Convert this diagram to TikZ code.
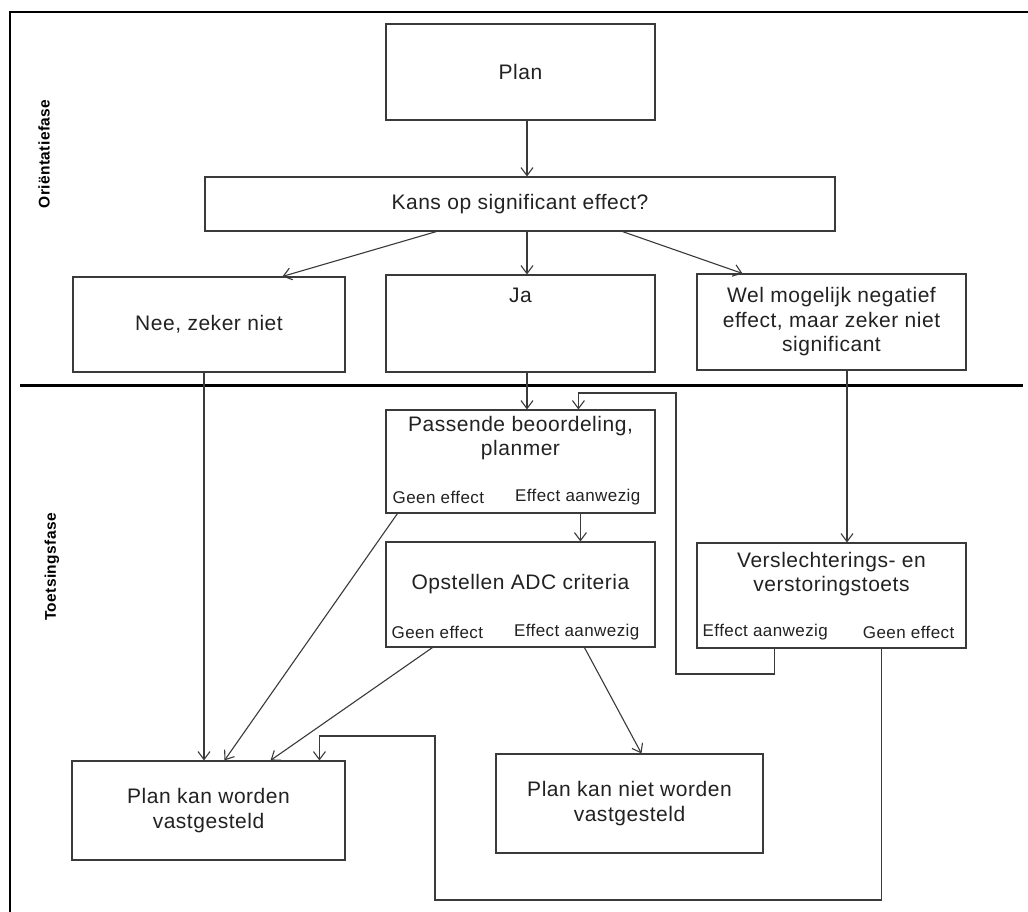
\documentclass[tikz,border=0pt]{standalone}
\usepackage{fontspec}
\setmainfont{Liberation Sans}[LetterSpace=2.5]
\usetikzlibrary{arrows.meta,calc}
\definecolor{linegray}{HTML}{3A3A3A}
\definecolor{textgray}{HTML}{222222}

\begin{document}
\begin{tikzpicture}[x=1pt, y=-1pt,
  box/.style={draw=linegray, line width=1.1pt, inner sep=0pt, align=center, text=textgray, font=\fontsize{21}{24.5}\selectfont},
  caption/.style={inner sep=0pt, align=center, text=textgray, font=\fontsize{21}{23.5}\selectfont},
  outcome/.style={inner sep=0pt, text=textgray, font=\fontsize{17}{20}\selectfont},
  phase/.style={rotate=90, font=\bfseries\fontsize{15.5}{18}\selectfont},
  flow/.style={draw=linegray, line width=1.1pt, -{Straight Barb[length=8pt,width=12pt,line width=1.1pt]}},
  link/.style={draw=linegray, line width=1.1pt}
]
\useasboundingbox[fill=white] (0,0) rectangle (1028,912);

% frame and phase divider
\draw[line width=2pt] (10,912) -- (10,12) -- (1028,12);
\coordinate (divl) at (20,385);
\coordinate (divr) at (1023,385);
\draw[line width=3pt] (divl) -- (divr);
\node[phase] (orient) at (44,154) {Oriëntatiefase};
\node[phase] (toets) at (52,567) {Toetsingsfase};

% orientatiefase
\node[box, minimum width=269pt, minimum height=96pt] (plan) at (520.5,72) {Plan};
\node[box, minimum width=630pt, minimum height=54pt] (kans) at (520,204) {Kans op significant effect?};
\node[box, minimum width=272pt, minimum height=95pt] (nee) at (209,324.5) {Nee, zeker niet};
\node[box, minimum width=269pt, minimum height=97pt] (ja) at (520.5,323.5) {};
\node[caption] (jatext) at ($(ja.north)+(0,21)$) {Ja};
\node[box, minimum width=269pt, minimum height=96pt] (wel) at (831.5,322) {Wel mogelijk negatief\\effect, maar zeker niet\\significant};

% toetsingsfase
\node[box, minimum width=269pt, minimum height=103pt] (pb) at (520.5,461.5) {};
\node[caption] (pbtext) at ($(pb.north)+(0,28.5)$) {Passende beoordeling,\\planmer};
\node[outcome, anchor=west] (pbgeen) at ($(pb.south west)+(7,-16)$) {Geen effect};
\node[outcome, anchor=east] (pbeffect) at ($(pb.south east)+(-15,-16)$) {Effect aanwezig};

\node[box, minimum width=269pt, minimum height=105pt] (adc) at (520.5,594.5) {};
\node[caption] (adctext) at ($(adc.north)+(0,43)$) {Opstellen ADC criteria};
\node[outcome, anchor=west] (adcgeen) at ($(adc.south west)+(6,-15)$) {Geen effect};
\node[outcome, anchor=east] (adceffect) at ($(adc.south east)+(-16,-15)$) {Effect aanwezig};

\node[box, minimum width=269pt, minimum height=105pt] (vt) at (831.5,595.5) {};
\node[caption] (vttext) at ($(vt.north)+(0,31.5)$) {Verslechterings- en\\verstoringstoets};
\node[outcome, anchor=west] (vteffect) at ($(vt.south west)+(6,-16)$) {Effect aanwezig};
\node[outcome, anchor=east] (vtgeen) at ($(vt.south east)+(-12,-16)$) {Geen effect};

\node[box, minimum width=273pt, minimum height=99pt] (kw) at (208.5,810.5) {Plan kan worden\\vastgesteld};
\node[box, minimum width=267pt, minimum height=99pt] (kn) at (629.5,803.5) {Plan kan niet worden\\vastgesteld};

% connectors
\coordinate (mainline) at (527,0);
\coordinate (neeline) at (204,0);
\coordinate (welline) at (847,0);
\draw[flow] (plan.south -| mainline) -- (kans.north -| mainline);
\draw[flow] (kans.south -| mainline) -- (ja.north -| mainline);
\draw[flow] ($(kans.south west)+(232,0)$) -- ($(nee.north west)+(210,0)$);
\draw[flow] ($(kans.south west)+(418,0)$) -- ($(wel.north west)+(46,0)$);
\draw[flow] (nee.south -| neeline) -- (kw.north -| neeline);
\draw[flow] (ja.south -| mainline) -- (pb.north -| mainline);
\draw[flow] (wel.south -| welline) -- (vt.north -| welline);
\draw[flow] ($(pb.south west)+(12,0)$) -- ($(kw.north west)+(153,0)$);
\draw[flow] ($(pb.south west)+(195,0)$) -- ($(adc.north west)+(195,0)$);
\draw[flow] ($(adc.south west)+(47,0)$) -- ($(kw.north west)+(199,0)$);
\draw[flow] ($(adc.south west)+(199,0)$) -- ($(kn.north west)+(146,0)$);

% terugkoppeling
\coordinate (backlow) at (676,674);
\coordinate (backturn) at (676,393);
\draw[flow] ($(vt.south west)+(78,0)$) |- (backlow) -- (backturn) -| ($(pb.north west)+(193,0)$);
\coordinate (skiplow) at (435,900);
\coordinate (skipturn) at (435,736);
\draw[flow] ($(vt.south west)+(185,0)$) |- (skiplow) -- (skipturn) -| ($(kw.north west)+(248,0)$);
\end{tikzpicture}
\end{document}
